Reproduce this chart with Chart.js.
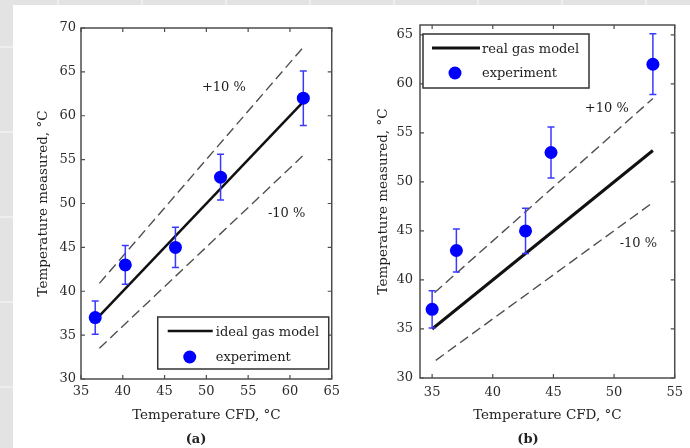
<!DOCTYPE html>
<html>
<head>
<meta charset="utf-8">
<script src="https://cdn.jsdelivr.net/npm/chart.js@4/dist/chart.umd.min.js"></script>
<style>
  body {
    margin: 0; width: 690px; height: 448px; overflow: hidden; position: relative;
    background-color: #e3e3e3;
    background-image:
      repeating-linear-gradient(90deg, transparent 0, transparent 57px, #eeeeee 57px, #eeeeee 59px, transparent 59px, transparent 84px),
      repeating-linear-gradient(180deg, transparent 0, transparent 46px, #eeeeee 46px, #eeeeee 48px, transparent 48px, transparent 85px);
  }
  #sheet { position: absolute; left: 13px; top: 5px; right: 0; bottom: 0; background: #fff; }
  .panel { position: absolute; top: 5px; }
  #panelA { left: 13px; }
  #panelB { left: 345px; }
  .caption {
    position: absolute; top: 431px; width: 40px; text-align: center;
    font: bold 13px 'DejaVu Serif', serif; color: #222;
  }
</style>
</head>
<body>
<div id="sheet"></div>
<canvas id="panelA" class="panel" width="332" height="443"></canvas>
<canvas id="panelB" class="panel" width="345" height="443"></canvas>
<div class="caption" style="left:176px">(a)</div>
<div class="caption" style="left:508px">(b)</div>
<script>
// measured temperatures (both panels) and their error half-widths
const measured = [37, 43, 45, 53, 62];
const errMeasured = [1.9, 2.2, 2.3, 2.6, 3.1];

// (a) ideal gas model
const xTicksA = [35, 40, 45, 50, 55, 60, 65];
const yTicksA = [30, 35, 40, 45, 50, 55, 60, 65, 70];
const cfdA = [36.7, 40.3, 46.3, 51.7, 61.6];
const idealLineA = [[37.2, 37.2], [61.5, 61.5]];
const plusTenA = [[37.2, 40.9], [61.5, 67.7]];
const minusTenA = [[37.2, 33.5], [61.5, 55.4]];

// (b) real gas model
const xTicksB = [35, 40, 45, 50, 55];
const yTicksB = [30, 35, 40, 45, 50, 55, 60, 65];
const cfdB = [35.0, 37.0, 42.7, 44.8, 53.2];
const realLineB = [[35, 35], [53.2, 53.2]];
const plusTenB = [[35.2, 38.7], [53.2, 58.5]];
const minusTenB = [[35.3, 31.8], [53.2, 47.9]];

const FONT = "'DejaVu Serif', serif";
const INK = '#2b2b2b';
const BLUE = '#0000ff';

const pts = pairs => pairs.map(([x, y]) => ({ x, y }));

function makePanel(id, cfg) {
  const errorBars = {
    id: 'errorBars',
    beforeDatasetDraw(chart, args) {
      const ds = chart.data.datasets[args.index];
      if (!ds.errors) return;
      const { ctx, scales: { x, y } } = chart;
      ctx.save();
      ctx.strokeStyle = '#3a3aff';
      ctx.lineWidth = 1.5;
      ctx.beginPath();
      ds.data.forEach((p, i) => {
        const px = x.getPixelForValue(p.x);
        const top = y.getPixelForValue(p.y + ds.errors[i]);
        const bot = y.getPixelForValue(p.y - ds.errors[i]);
        ctx.moveTo(px, top); ctx.lineTo(px, bot);
        ctx.moveTo(px - 3.5, top); ctx.lineTo(px + 3.5, top);
        ctx.moveTo(px - 3.5, bot); ctx.lineTo(px + 3.5, bot);
      });
      ctx.stroke();
      ctx.restore();
    }
  };

  // box round the axes, with inward ticks on all four sides
  const frame = {
    id: 'frame',
    afterDatasetsDraw(chart) {
      const { ctx, chartArea: a, scales: { x, y } } = chart;
      ctx.save();
      ctx.strokeStyle = '#4d4d4d';
      ctx.lineWidth = 1.5;
      ctx.strokeRect(a.left, a.top, a.right - a.left, a.bottom - a.top);
      ctx.lineWidth = 1.2;
      ctx.beginPath();
      x.ticks.forEach(t => {
        const px = x.getPixelForValue(t.value);
        ctx.moveTo(px, a.bottom); ctx.lineTo(px, a.bottom - 4);
        ctx.moveTo(px, a.top); ctx.lineTo(px, a.top + 4);
      });
      y.ticks.forEach(t => {
        const py = y.getPixelForValue(t.value);
        ctx.moveTo(a.left, py); ctx.lineTo(a.left + 4, py);
        ctx.moveTo(a.right, py); ctx.lineTo(a.right - 4, py);
      });
      ctx.stroke();

      // +10 % / -10 % notes
      ctx.fillStyle = '#1e1e1e';
      ctx.font = '13px ' + FONT;
      ctx.textAlign = 'center';
      ctx.textBaseline = 'middle';
      cfg.notes.forEach(n => {
        ctx.fillText(n.text, x.getPixelForValue(n.at[0]), y.getPixelForValue(n.at[1]));
      });
      ctx.restore();
    }
  };

  const boxLegend = {
    id: 'boxLegend',
    afterDraw(chart) {
      const { ctx, chartArea: a } = chart;
      const L = cfg.legend;
      const left = L.corner === 'br' ? a.right - L.dx - L.w : a.left + L.dx;
      const top = L.corner === 'br' ? a.bottom - L.dy - L.h : a.top + L.dy;
      const exp = chart.data.datasets[0];
      const model = chart.data.datasets[1];
      ctx.save();
      ctx.fillStyle = '#fff';
      ctx.fillRect(left, top, L.w, L.h);
      ctx.strokeStyle = '#333';
      ctx.lineWidth = 1.5;
      ctx.strokeRect(left, top, L.w, L.h);

      ctx.strokeStyle = model.borderColor;
      ctx.lineWidth = model.borderWidth;
      ctx.beginPath();
      ctx.moveTo(left + L.line[0], top + L.row1);
      ctx.lineTo(left + L.line[1], top + L.row1);
      ctx.stroke();

      ctx.fillStyle = BLUE;
      ctx.beginPath();
      ctx.arc(left + L.markX, top + L.row2, 6.5, 0, Math.PI * 2);
      ctx.fill();

      ctx.fillStyle = '#1e1e1e';
      ctx.font = '13px ' + FONT;
      ctx.textBaseline = 'middle';
      ctx.fillText(model.label, left + L.textX, top + L.row1 + 2);
      ctx.fillText(exp.label, left + L.textX, top + L.row2 + 1);
      ctx.restore();
    }
  };

  const tickFont = { family: FONT, size: 13 };
  const titleFont = { family: FONT, size: 13.5 };

  return new Chart(document.getElementById(id), {
    type: 'scatter',
    data: {
      datasets: [
        {
          label: 'experiment',
          data: cfg.cfd.map((x, i) => ({ x, y: measured[i] })),
          errors: errMeasured,
          pointRadius: 6.5,
          pointBackgroundColor: BLUE,
          pointBorderWidth: 0,
        },
        {
          label: cfg.modelLabel,
          type: 'line',
          data: pts(cfg.model),
          borderColor: '#111',
          borderWidth: cfg.modelWidth,
          pointRadius: 0,
        },
        {
          label: '+10 %',
          type: 'line',
          data: pts(cfg.plus),
          borderColor: '#505050',
          borderWidth: 1.4,
          borderDash: [10, 5],
          pointRadius: 0,
        },
        {
          label: '-10 %',
          type: 'line',
          data: pts(cfg.minus),
          borderColor: '#505050',
          borderWidth: 1.4,
          borderDash: [10, 5],
          pointRadius: 0,
        },
      ],
    },
    options: {
      responsive: false,
      animation: false,
      layout: { autoPadding: false, padding: { left: 0, top: cfg.padTop, right: cfg.padRight, bottom: 0 } },
      plugins: { legend: { display: false }, tooltip: { enabled: false } },
      scales: {
        x: {
          type: 'linear',
          min: cfg.xMin, max: cfg.xMax,
          afterBuildTicks: s => { s.ticks = cfg.xTicks.map(v => ({ value: v })); },
          afterFit: s => { s.height = cfg.xHeight; },
          grid: { display: false, drawTicks: false },
          border: { display: false },
          ticks: { color: INK, font: tickFont, padding: cfg.xPad, maxRotation: 0 },
          title: { display: true, text: 'Temperature CFD, °C', color: '#1e1e1e', font: titleFont, padding: { top: 0, bottom: 24 } },
        },
        y: {
          type: 'linear',
          min: cfg.yMin, max: cfg.yMax,
          afterBuildTicks: s => { s.ticks = cfg.yTicks.map(v => ({ value: v })); },
          afterFit: s => { s.width = cfg.yWidth; },
          grid: { display: false, drawTicks: false },
          border: { display: false },
          ticks: { color: INK, font: tickFont, padding: cfg.yPad },
          title: { display: true, text: 'Temperature measured, °C', color: '#1e1e1e', font: titleFont, padding: { top: cfg.yTitlePad, bottom: 0 } },
        },
      },
    },
    plugins: [errorBars, frame, boxLegend],
  });
}

makePanel('panelA', {
  cfd: cfdA, model: idealLineA, plus: plusTenA, minus: minusTenA,
  modelLabel: 'ideal gas model', modelWidth: 2.5,
  xMin: 35, xMax: 65, yMin: 30, yMax: 70, xTicks: xTicksA, yTicks: yTicksA,
  padTop: 23, padRight: 9, xHeight: 69, yWidth: 68, xPad: 5, yPad: 5, yTitlePad: 22,
  notes: [{ text: '+10 %', at: [52.1, 63.2] }, { text: '-10 %', at: [59.6, 48.9] }],
  legend: { corner: 'br', dx: 3, dy: 10, w: 171, h: 52, row1: 14, row2: 40, line: [10, 55], markX: 32, textX: 58 },
});

makePanel('panelB', {
  cfd: cfdB, model: realLineB, plus: plusTenB, minus: minusTenB,
  modelLabel: 'real gas model', modelWidth: 3,
  xMin: 34, xMax: 55, yMin: 30, yMax: 66, xTicks: xTicksB, yTicks: yTicksB,
  padTop: 20, padRight: 13, xHeight: 70, yWidth: 75, xPad: 7, yPad: 7, yTitlePad: 30,
  notes: [{ text: '+10 %', at: [49.4, 57.5] }, { text: '-10 %', at: [52.0, 43.7] }],
  legend: { corner: 'tl', dx: 3, dy: 9, w: 166, h: 54, row1: 14, row2: 39, line: [9, 57], markX: 32, textX: 59 },
});
</script>
</body>
</html>
